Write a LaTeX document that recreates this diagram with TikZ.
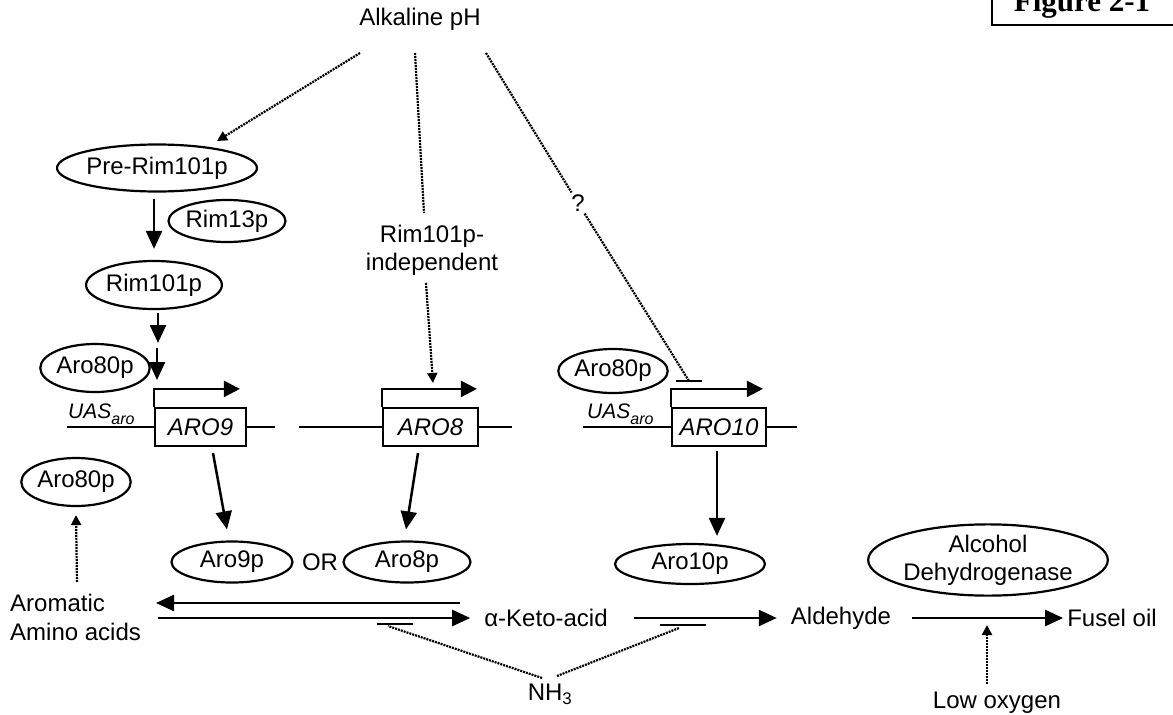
\documentclass[tikz,border=0pt]{standalone}
\usepackage{fontspec}
\setmainfont{Liberation Sans}
\newfontfamily\figfont{Liberation Serif}
\usetikzlibrary{arrows.meta,shapes.geometric}
\begin{document}
\begin{tikzpicture}[x=1pt,y=-1pt,
  every node/.style={font=\fontsize{24}{28}\selectfont, inner sep=2pt},
  oval/.style={ellipse, draw, line width=2.2pt, inner sep=0pt},
  genebox/.style={draw, line width=2.2pt, minimum height=38pt, inner sep=0pt,
    font=\fontsize{24}{28}\selectfont\itshape},
  solidarrow/.style={line width=2.5pt, -{Triangle[length=18pt,width=16pt]}},
  promoter/.style={line width=2.4pt, -{Triangle[length=16pt,width=16pt]}},
  dotarrow/.style={line width=2.2pt, dash pattern=on 2pt off 1pt, -{Triangle[length=10pt,width=10pt]}},
  dotline/.style={line width=2.2pt, dash pattern=on 2pt off 1pt},
  dna/.style={line width=2.4pt},
  tbar/.style={line width=2.6pt},
  uas/.style={anchor=base west, inner sep=0pt, font=\fontsize{21}{24}\selectfont\itshape},
]
\useasboundingbox (0,0) rectangle (1173,715);
\clip (0,0) rectangle (1173,715);

% figure label
\draw[line width=2pt] (992,-30) rectangle (1200,25);
\node[font=\figfont\fontsize{31}{31}\selectfont\bfseries, anchor=base, inner sep=0pt] (fig) at (1082,11) {Figure 2-1};

% top signal
\node (alk) at (420,19) {Alkaline pH};
\coordinate (alkL) at (360,53);
\coordinate (alkM) at (415,53);
\coordinate (alkR) at (486,53);

% Rim101 pathway
\node[oval, minimum width=162pt, minimum height=47pt] (pre) at (157,168) {Pre-Rim101p};
\node[oval, minimum width=117pt, minimum height=42pt] (rim13) at (227,221) {Rim13p};
\node[oval, minimum width=122pt, minimum height=48pt] (rim101) at (154,285) {Rim101p};
\coordinate (preTip) at (217,141);
\draw[dotarrow] (alkL) -- (preTip);
\draw[solidarrow] ([xshift=-3pt,yshift=-6pt]pre.south) -- ([yshift=11pt]rim101.north);
\coordinate (ra1) at (158,343);
\coordinate (ra2) at (157,348);
\coordinate (ra3) at (157,380);
\draw[solidarrow] ([xshift=4pt,yshift=-3pt]rim101.south) -- (ra1);
\draw[solidarrow] (ra2) -- (ra3);

% Rim101p-independent
\node[align=center, inner sep=0pt] (indep) at (432,250) {Rim101p-\\independent};
\coordinate (mid1) at (424,213);
\coordinate (mid2) at (426,283);
\coordinate (mid3) at (433,383);
\draw[dotline] (alkM) -- (mid1);
\draw[dotarrow] (mid2) -- (mid3);

% ? branch
\node (q) at (578,203) {?};
\coordinate (t10) at (689,381);
\draw[dotline] (alkR) -- (q);
\draw[dotline] (q) -- (t10);
\draw[tbar] ([xshift=-13pt]t10) -- ([xshift=13pt]t10);

% Aro80p activators
\node[oval, minimum width=94pt, minimum height=48pt] (a80a) at (95,368) {Aro80p};
\node[oval, minimum width=96pt, minimum height=44pt] (a80c) at (613,371) {Aro80p};
\node[oval, minimum width=95pt, minimum height=48pt] (a80b) at (76,482) {Aro80p};

% genes
\node[genebox, minimum width=91pt] (aro9) at (200.5,427) {ARO9};
\node[genebox, minimum width=95pt] (aro8) at (430.5,427) {ARO8};
\node[genebox, minimum width=94pt] (aro10) at (719,427) {ARO10};

\coordinate (d1) at (67,427);
\coordinate (d2) at (275,427);
\coordinate (d3) at (299,427);
\coordinate (d4) at (512,427);
\coordinate (d5) at (583,427);
\coordinate (d6) at (797,427);
\draw[dna] (d1) -- (aro9.west);
\draw[dna] (aro9.east) -- (d2);
\draw[dna] (d3) -- (aro8.west);
\draw[dna] (aro8.east) -- (d4);
\draw[dna] (d5) -- (aro10.west);
\draw[dna] (aro10.east) -- (d6);

\draw[promoter] (aro9.north west) -- ++(0,-18) -- ++(86,0);
\draw[promoter] (aro8.north west) -- ++(0,-18) -- ++(95,0);
\draw[promoter] (aro10.north west) -- ++(0,-18) -- ++(92,0);

\node[uas] (uas9) at (68,418) {UAS\raisebox{-6pt}{\fontsize{16}{16}\selectfont aro}};
\node[uas] (uas10) at (587,418) {UAS\raisebox{-6pt}{\fontsize{16}{16}\selectfont aro}};

% enzymes
\node[oval, minimum width=121pt, minimum height=41pt] (aro9p) at (232,562) {Aro9p};
\node (or) at (320,562) {OR};
\node[oval, minimum width=127pt, minimum height=41pt] (aro8p) at (407,562) {Aro8p};
\node[oval, minimum width=150pt, minimum height=40pt] (aro10p) at (690,564) {Aro10p};
\node[oval, minimum width=224pt, minimum height=64pt, align=center] (adh) at (988,560) {Alcohol\\Dehydrogenase};

\draw[solidarrow] ([xshift=12.5pt,yshift=-6pt]aro9.south) -- ([xshift=-5pt,yshift=11pt]aro9p.north);
\draw[solidarrow] ([xshift=-12.5pt,yshift=-6pt]aro8.south) -- ([xshift=-1pt,yshift=11pt]aro8p.north);
\draw[solidarrow] ([xshift=-2pt,yshift=-4pt]aro10.south) -- ([xshift=27pt,yshift=7pt]aro10p.north);

% metabolites
\node[anchor=west, align=left, inner sep=0pt, font=\fontsize{24}{29}\selectfont] (arom) at (10,617) {Aromatic\\Amino acids};
\node (keto) at (546,618) {α-Keto-acid};
\node (ald) at (841,618) {Aldehyde};
\node (fusel) at (1112,618) {Fusel oil};
\node (nh3) at (550,694) {NH\textsubscript{3}};
\node (lowox) at (997,703) {Low oxygen};

\coordinate (u1) at (460,603);
\coordinate (u2) at (156,603);
\coordinate (l1) at (158,618);
\draw[solidarrow] (u1) -- (u2);
\draw[solidarrow] (l1) -- ([xshift=-12pt]keto.west);
\draw[solidarrow] ([xshift=24pt]keto.east) -- ([xshift=-12pt]ald.west);
\draw[solidarrow] ([xshift=19pt]ald.east) -- ([xshift=-2pt]fusel.west);

% Aro80p up from amino acids
\coordinate (am1) at (77,582);
\draw[dotarrow] (am1) -- ([yshift=-8pt]a80b.south);

% NH3 inhibition
\coordinate (tb1) at (395,624);
\coordinate (tb2) at (683,625);
\coordinate (n1) at (542,678);
\coordinate (n2) at (557,676);
\draw[tbar] ([xshift=-18pt]tb1) -- ([xshift=18pt]tb1);
\draw[tbar] ([xshift=-23pt]tb2) -- ([xshift=23pt]tb2);
\draw[dotline] (n1) -- ([xshift=-7pt,yshift=-2pt]tb1);
\draw[dotline] (n2) -- ([xshift=-4pt,yshift=-3pt]tb2);

% low oxygen
\coordinate (lo0) at (987,684);
\coordinate (lo1) at (987,625);
\draw[dotarrow] (lo0) -- (lo1);
\end{tikzpicture}
\end{document}
